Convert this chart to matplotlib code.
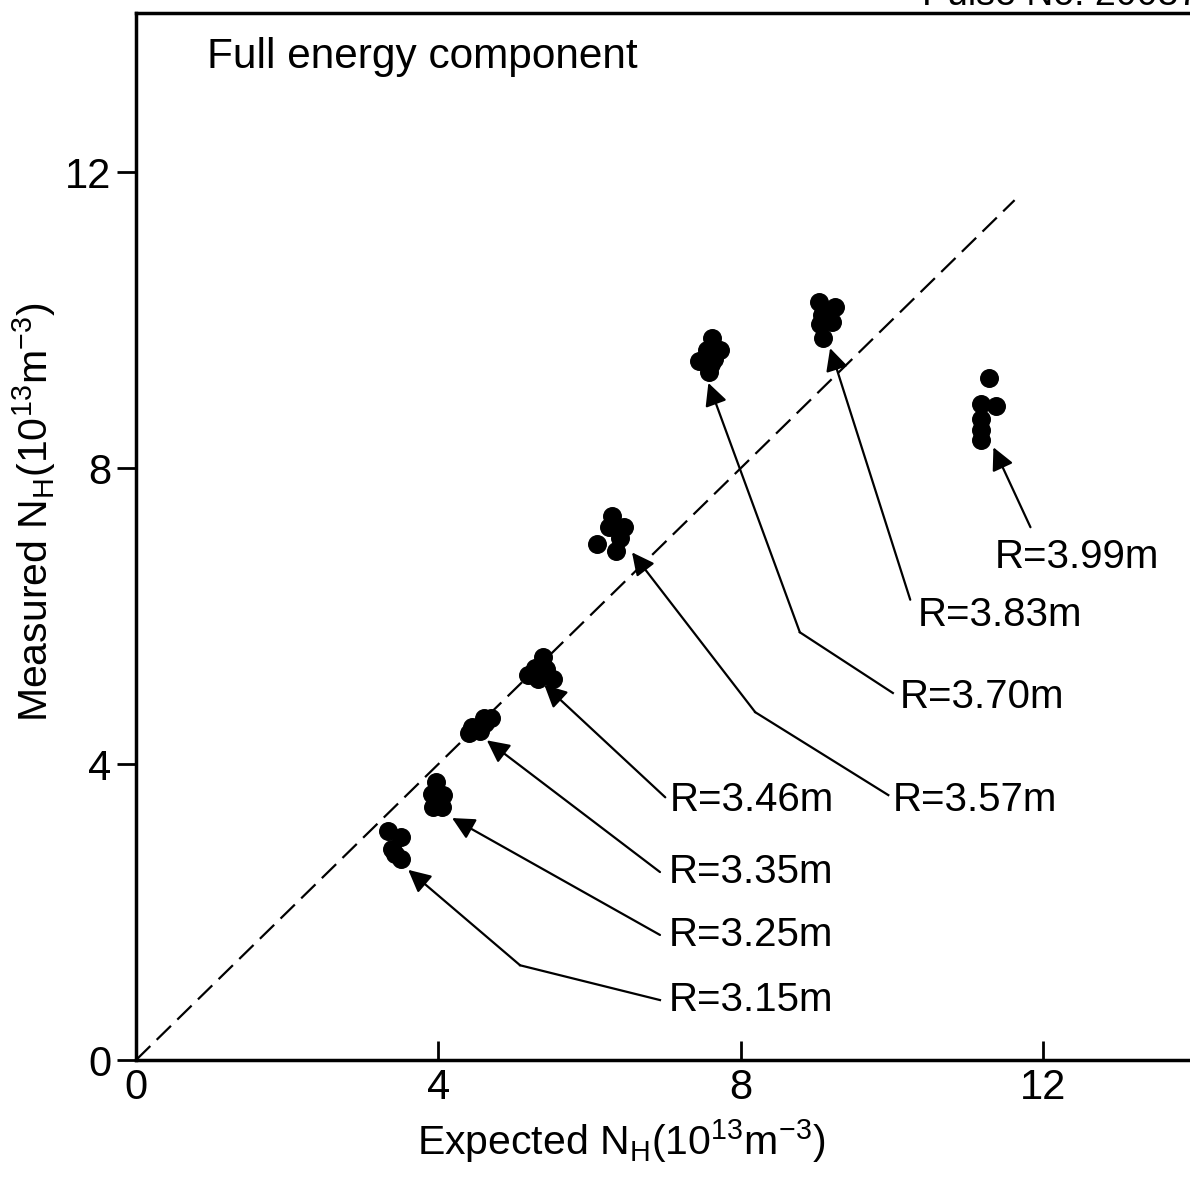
import matplotlib.pyplot as plt

plt.rcParams['font.family'] = ['Liberation Sans', 'DejaVu Sans']
plt.rcParams['mathtext.fontset'] = 'custom'
plt.rcParams['mathtext.rm'] = 'Liberation Sans'
plt.rcParams['mathtext.it'] = 'Liberation Sans'

# Expected vs measured neutral density, one cluster per major radius
exp_315 = [3.33, 3.50, 3.38, 3.42, 3.50]
meas_315 = [3.10, 3.02, 2.85, 2.78, 2.72]
exp_325 = [3.97, 3.92, 4.06, 3.93, 4.05, 3.98]
meas_325 = [3.76, 3.60, 3.58, 3.42, 3.42, 3.50]
exp_335 = [4.45, 4.60, 4.70, 4.55, 4.40, 4.62]
meas_335 = [4.50, 4.62, 4.62, 4.45, 4.42, 4.55]
exp_346 = [5.38, 5.28, 5.18, 5.42, 5.52, 5.32]
meas_346 = [5.45, 5.30, 5.20, 5.28, 5.15, 5.15]
exp_357 = [6.29, 6.25, 6.45, 6.10, 6.35, 6.40]
meas_357 = [7.35, 7.20, 7.20, 6.97, 6.88, 7.05]
exp_370 = [7.62, 7.55, 7.72, 7.45, 7.65, 7.58, 7.60]
meas_370 = [9.76, 9.60, 9.60, 9.45, 9.47, 9.30, 9.40]
exp_383 = [9.03, 9.07, 9.25, 9.20, 9.05, 9.08]
meas_383 = [10.24, 10.07, 10.18, 9.98, 9.95, 9.76]
exp_399 = [11.28, 11.18, 11.38, 11.17, 11.17, 11.17]
meas_399 = [9.22, 8.86, 8.84, 8.66, 8.52, 8.38]

labels = ['R=3.15m', 'R=3.25m', 'R=3.35m', 'R=3.46m',
          'R=3.57m', 'R=3.70m', 'R=3.83m', 'R=3.99m']
text_x = [7.04, 7.04, 7.04, 7.06, 10.01, 10.10, 10.34, 11.36]
text_y = [0.81, 1.69, 2.54, 3.51, 3.51, 4.90, 6.01, 6.80]
tail_x = [6.93, 6.93, 6.93, 7.00, 9.95, 10.01, 10.24, 11.83]
tail_y = [0.81, 1.69, 2.54, 3.55, 3.58, 4.96, 6.22, 7.20]
bend_x = [5.08, None, None, None, 8.19, 8.78, None, None]
bend_y = [1.28, None, None, None, 4.70, 5.78, None, None]
tip_x = [3.60, 4.18, 4.64, 5.40, 6.56, 7.57, 9.18, 11.34]
tip_y = [2.57, 3.27, 4.32, 5.07, 6.86, 9.15, 9.62, 8.28]

fig = plt.figure(figsize=(11.9, 11.77), dpi=100)
ax = fig.add_axes([0.1143, 0.0994, 0.8857, 0.8896])

# y = x reference line
ax.plot([0, 11.62], [0, 11.62], color='black', linestyle=(0, (9, 4)), linewidth=1.6)

xs = [exp_315, exp_325, exp_335, exp_346, exp_357, exp_370, exp_383, exp_399]
ys = [meas_315, meas_325, meas_335, meas_346, meas_357, meas_370, meas_383, meas_399]
for xv, yv in zip(xs, ys):
    ax.scatter(xv, yv, s=160, color='black', zorder=3)

for i, lab in enumerate(labels):
    ax.text(text_x[i], text_y[i], lab, fontsize=29, ha='left', va='center')
    start = (tail_x[i], tail_y[i])
    if bend_x[i] is not None:
        ax.plot([tail_x[i], bend_x[i]], [tail_y[i], bend_y[i]], color='black', linewidth=1.6)
        start = (bend_x[i], bend_y[i])
    ax.annotate('', xy=(tip_x[i], tip_y[i]), xytext=start,
                arrowprops=dict(arrowstyle='-|>', color='black', lw=1.6,
                                mutation_scale=34, shrinkA=0, shrinkB=0))

ax.text(0.94, 13.55, 'Full energy component', fontsize=30.5, ha='left', va='center')

ax.set_xlim(0, 13.94)
ax.set_ylim(0, 14.15)
ax.set_xticks([0, 4, 8, 12])
ax.set_yticks([0, 4, 8, 12])
ax.tick_params(axis='x', direction='in', length=14, width=2, labelsize=30, pad=6)
ax.tick_params(axis='y', direction='out', length=14, width=2, labelsize=30, pad=4)
ax.spines['right'].set_visible(False)
for s in ['left', 'bottom', 'top']:
    ax.spines[s].set_linewidth(2.5)

ax.set_xlabel(r'Expected N$_\mathregular{H}$(10$^\mathregular{13}$m$^\mathregular{-3}$)',
              fontsize=29.5)
ax.set_ylabel(r'Measured N$_\mathregular{H}$(10$^\mathregular{13}$m$^\mathregular{-3}$)',
              fontsize=29.5)
ax.xaxis.set_label_coords(0.46, -0.055)
ax.yaxis.set_label_coords(-0.074, 0.523)

fig.text(0.775, 1.004, 'Pulse No. 20087', fontsize=27, ha='left', va='center')

fig.savefig('out.png', dpi=100)
